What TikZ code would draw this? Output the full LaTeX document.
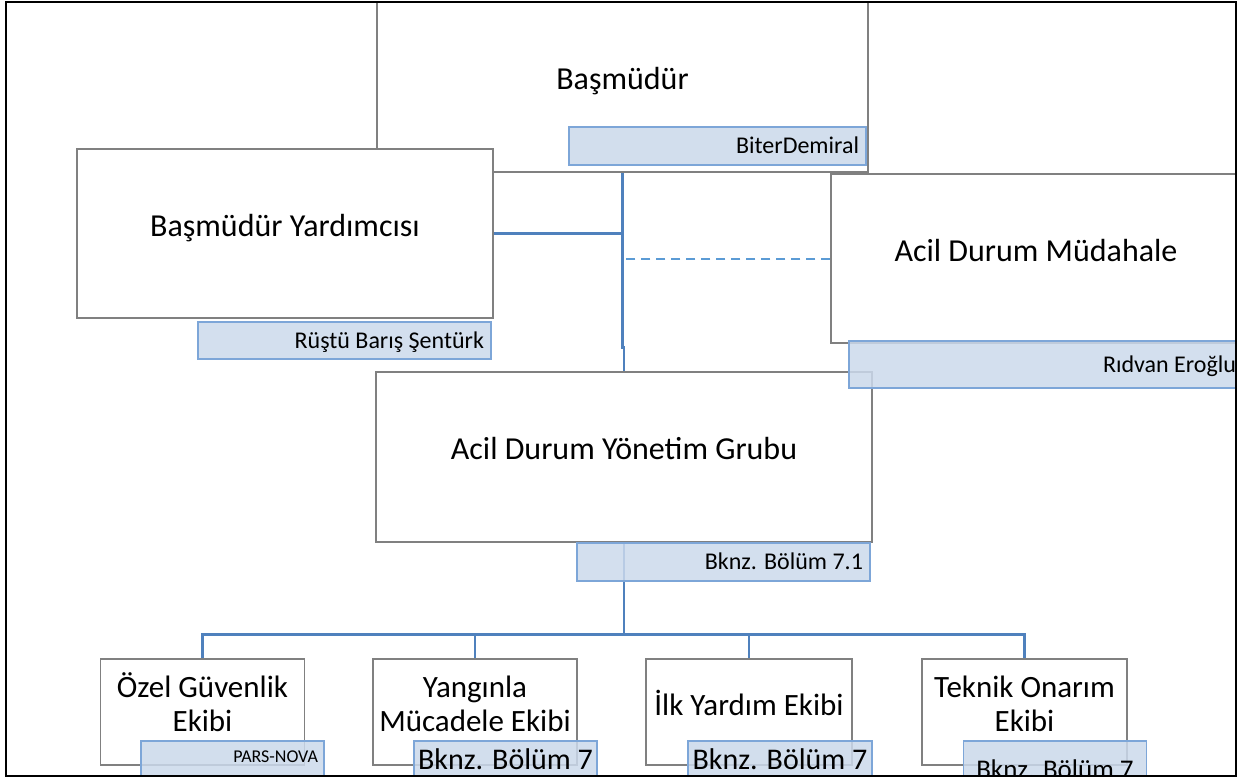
\documentclass[tikz,border=0pt]{standalone}
\usepackage{fontspec}
\setmainfont{Carlito}
\definecolor{kutucizgi}{RGB}{128,128,128}
\definecolor{isimdolgu}{RGB}{203,217,235}
\definecolor{isimcizgi}{RGB}{125,166,216}
\definecolor{bagrenk}{RGB}{79,129,189}
\definecolor{kesikrenk}{RGB}{91,155,213}
\begin{document}
\begin{tikzpicture}[x=1pt,y=-1pt,
	kutu/.style={draw=kutucizgi,fill=white,line width=1.3pt,inner sep=0pt,font=\fontsize{32}{38}\selectfont,text height=22pt,text depth=17pt},
	ekip/.style={draw=kutucizgi,fill=white,line width=1.3pt,inner sep=0pt,minimum width=204pt,minimum height=106pt,align=center,font=\fontsize{31}{34}\selectfont,text height=54pt,text depth=16pt},
	isim/.style={draw=isimcizgi,fill=isimdolgu,fill opacity=.85,text opacity=1,line width=1.3pt,inner xsep=7pt,inner ysep=0pt,minimum height=38pt,align=flush right,font=\fontsize{24}{28}\selectfont,text height=15.5pt,text depth=0pt},
	bolum/.style={isim,inner xsep=0pt,minimum width=183pt,align=center,font=\fontsize{30}{34}\selectfont,text height=19.3pt},
	bag/.style={draw=bagrenk,line width=2.5pt},
	kesik/.style={draw=kesikrenk,line width=2pt,dash pattern=on 9pt off 6pt}]
	\useasboundingbox (0,0) rectangle (1241,779);
	\begin{scope}
		\clip (6,2) rectangle (1236,776);
		\node[kutu,minimum width=491pt,minimum height=170pt] (basmudur) at (622.5,87) {Başmüdür};
		\node[kutu,minimum width=410pt,minimum height=169pt] (mudahale) at (1036,258.5) {Acil Durum Müdahale};
		\node[kutu,minimum width=416pt,minimum height=169pt] (yardimci) at (285,233.5) {Başmüdür Yardımcısı};
		\draw[bag] (basmudur.south) -- ++(0,175) -| (624,372);
		\draw[bag] (yardimci.east) -- (yardimci.east -| basmudur.south);
		\node[kutu,minimum width=496pt,minimum height=170pt] (yonetim) at (624,457) {Acil Durum Yönetim Grubu};
		\draw[kesik] (mudahale.west) -- (mudahale.west -| yonetim.north);
		\node[ekip] (guvenlik) at (202.5,712) {Özel Güvenlik\\Ekibi};
		\node[ekip] (yangin) at (475,712) {Yangınla\\Mücadele Ekibi};
		\node[ekip,text height=20pt,text depth=14pt,minimum width=206pt] (ilkyardim) at (749,712) {İlk Yardım Ekibi};
		\node[ekip,minimum width=205pt] (teknik) at (1024.5,712) {Teknik Onarım\\Ekibi};
		\draw[bag] (yonetim.south) -- ++(0,92) coordinate (bus);
		\draw[bag] (guvenlik.north) |- (bus) -| (teknik.north);
		\draw[bag] (yangin.north) -- (yangin.north |- bus);
		\draw[bag] (ilkyardim.north) -- (ilkyardim.north |- bus);
		% isim kutulari
		\node[isim,text width=283pt] (n-basmudur) at (717.5,146) {BiterDemiral};
		\node[isim,text width=279pt,minimum height=37pt] (n-yardimci) at (344.5,340.5) {Rüştü Barış Şentürk};
		\node[isim,text width=380pt,minimum height=47pt] (n-mudahale) at (1046,364.5) {Rıdvan Eroğlu};
		\node[isim,text width=279pt] (n-yonetim) at (723.5,562) {Bknz. Bölüm 7.1};
		\node[isim,inner xsep=6pt,text width=171pt,font=\fontsize{18}{22}\selectfont,text height=11.6pt,text depth=6pt] (n-guvenlik) at (232.5,760) {PARS-NOVA};
		\node[bolum] (n-yangin) at (505.5,760) {Bknz. Bölüm 7};
		\node[bolum,minimum width=184pt] (n-ilkyardim) at (780,760) {Bknz. Bölüm 7};
		\node[bolum,font=\fontsize{27}{32}\selectfont,text height=36pt] (n-teknik) at (1055,760) {Bknz. Bölüm 7};
	\end{scope}
	\draw[line width=2.5pt] (6,2) rectangle (1236,776);
\end{tikzpicture}
\end{document}
